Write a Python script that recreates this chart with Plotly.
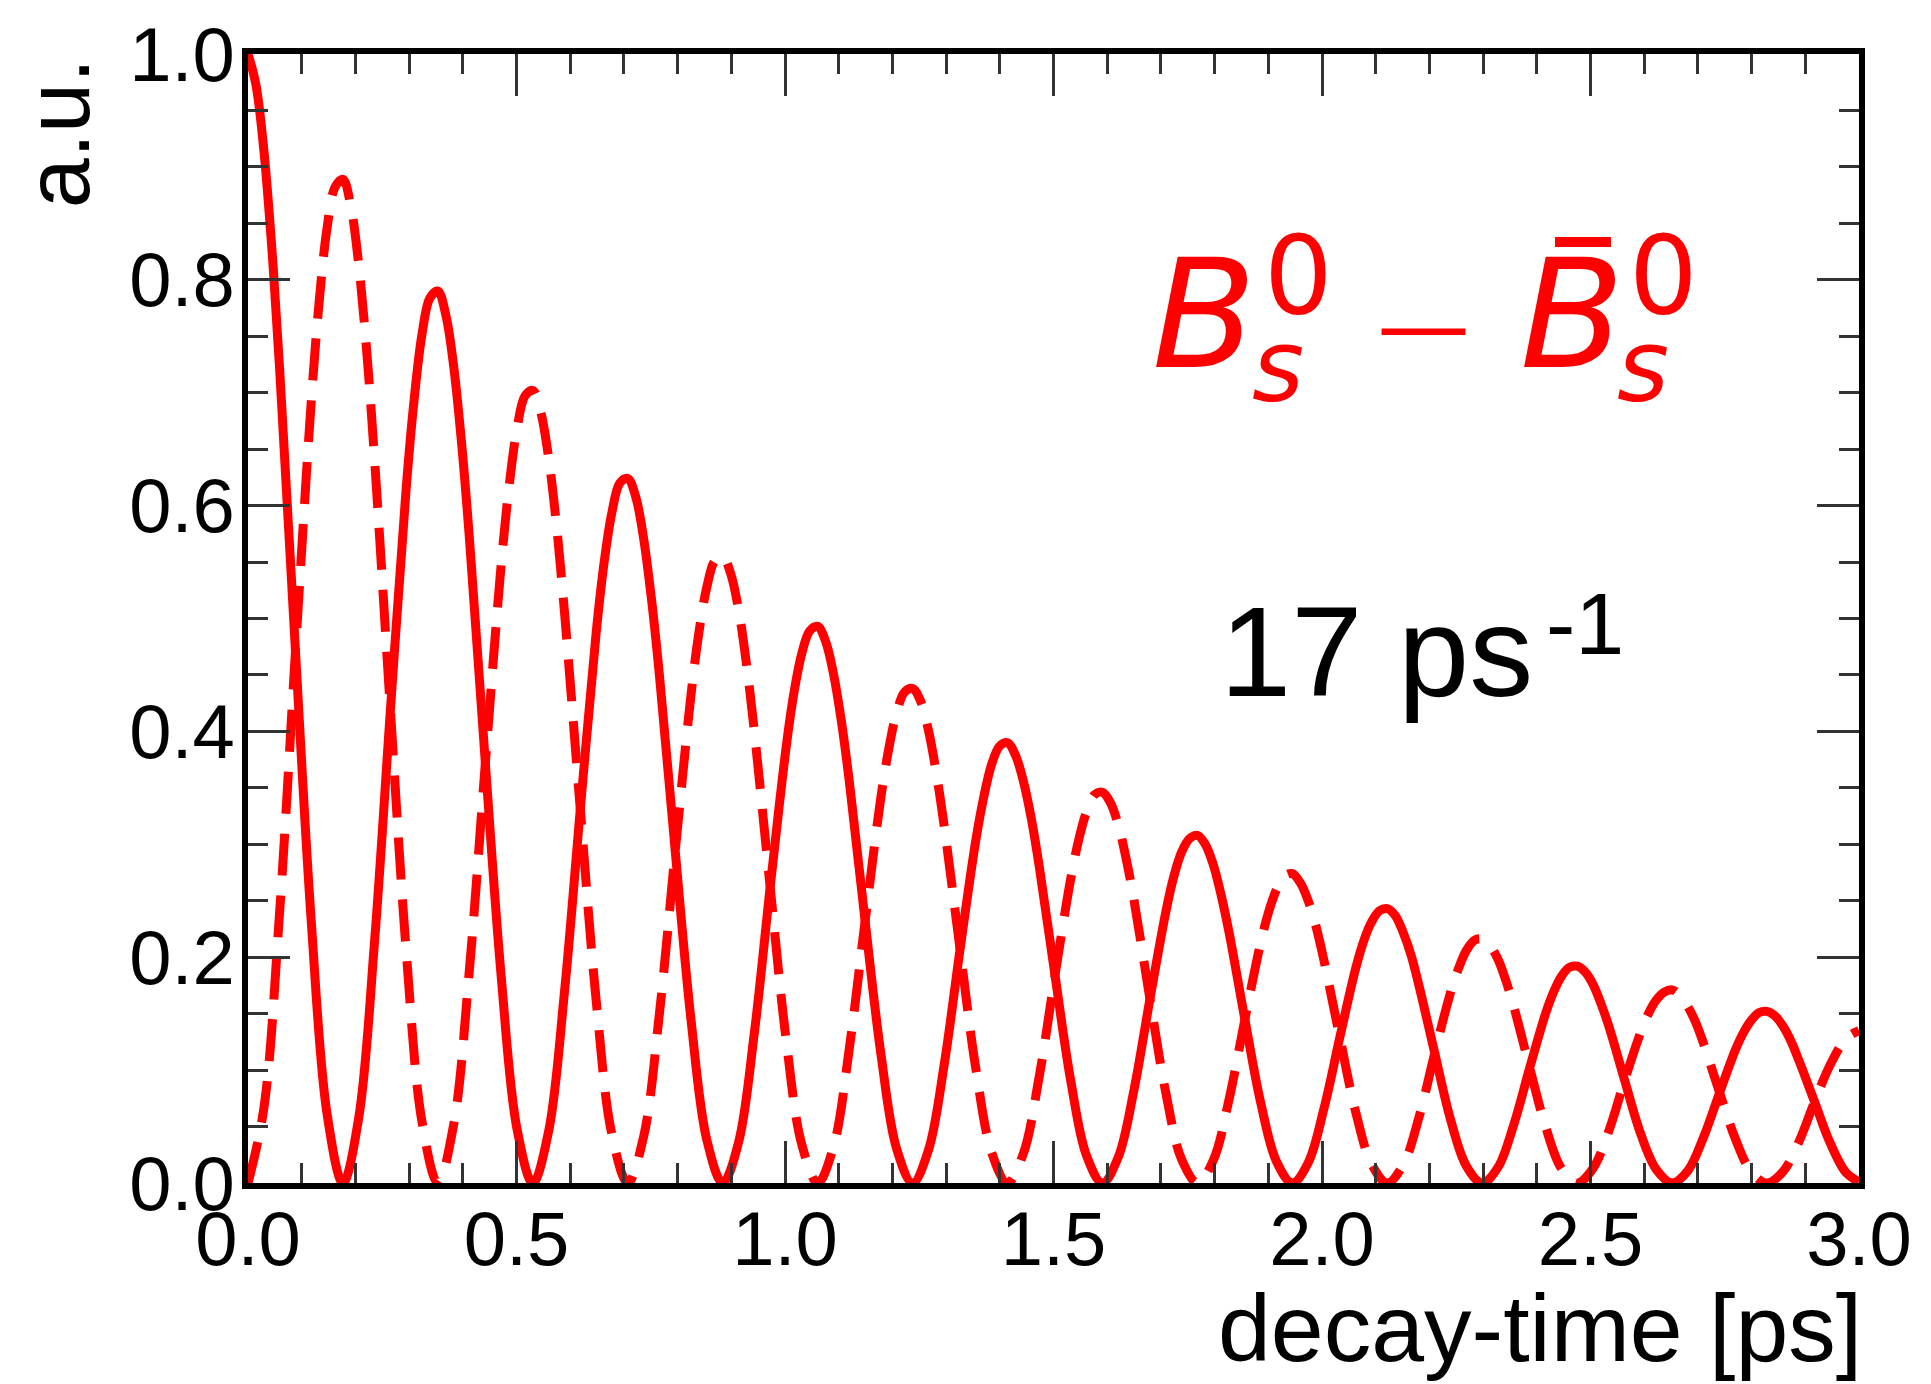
import plotly.graph_objects as go

# Values read from the picture. Sampled every 1/12 of an oscillation period,
# with extra readings around every maximum.
# unmixed (solid) curve: decay time [ps] and height [a.u.]
t_unmixed = [0.0000, 0.0147, 0.0295, 0.0442, 0.0589, 0.0884, 0.1179, 0.1473, 0.1768, 0.2063,
             0.2357, 0.2652, 0.2947, 0.3094, 0.3241, 0.3389, 0.3536, 0.3683, 0.3831, 0.3978,
             0.4125, 0.4420, 0.4715, 0.5009, 0.5304, 0.5599, 0.5893, 0.6188, 0.6483, 0.6630,
             0.6777, 0.6925, 0.7072, 0.7219, 0.7367, 0.7514, 0.7661, 0.7956, 0.8251, 0.8545,
             0.8840, 0.9135, 0.9429, 0.9724, 1.0019, 1.0166, 1.0313, 1.0461, 1.0608, 1.0755,
             1.0903, 1.1050, 1.1197, 1.1492, 1.1787, 1.2081, 1.2376, 1.2671, 1.2965, 1.3260,
             1.3555, 1.3702, 1.3849, 1.3997, 1.4144, 1.4291, 1.4439, 1.4586, 1.4733, 1.5028,
             1.5323, 1.5617, 1.5912, 1.6207, 1.6501, 1.6796, 1.7091, 1.7238, 1.7385, 1.7533,
             1.7680, 1.7827, 1.7975, 1.8122, 1.8269, 1.8564, 1.8859, 1.9153, 1.9448, 1.9743,
             2.0037, 2.0332, 2.0627, 2.0774, 2.0921, 2.1069, 2.1216, 2.1363, 2.1511, 2.1658,
             2.1805, 2.2100, 2.2395, 2.2689, 2.2984, 2.3279, 2.3573, 2.3868, 2.4163, 2.4310,
             2.4457, 2.4605, 2.4752, 2.4899, 2.5047, 2.5194, 2.5341, 2.5636, 2.5931, 2.6225,
             2.6520, 2.6815, 2.7109, 2.7404, 2.7699, 2.7846, 2.7993, 2.8141, 2.8288, 2.8435,
             2.8583, 2.8730, 2.8877, 2.9172, 2.9467, 2.9761, 3.0000]
unmixed = [1.000, 0.973, 0.915, 0.829, 0.721, 0.471, 0.231, 0.061, 0.000, 0.058,
           0.214, 0.419, 0.616, 0.694, 0.752, 0.784, 0.790, 0.769, 0.723, 0.655,
           0.570, 0.372, 0.183, 0.048, 0.000, 0.046, 0.169, 0.331, 0.487, 0.549,
           0.594, 0.620, 0.624, 0.608, 0.571, 0.517, 0.450, 0.294, 0.144, 0.038,
           0.000, 0.036, 0.133, 0.262, 0.385, 0.434, 0.469, 0.489, 0.493, 0.480,
           0.451, 0.409, 0.356, 0.232, 0.114, 0.030, 0.000, 0.029, 0.105, 0.207,
           0.304, 0.342, 0.371, 0.387, 0.390, 0.379, 0.356, 0.323, 0.281, 0.184,
           0.090, 0.024, 0.000, 0.023, 0.083, 0.163, 0.240, 0.271, 0.293, 0.305,
           0.308, 0.300, 0.282, 0.255, 0.222, 0.145, 0.071, 0.019, 0.000, 0.018,
           0.066, 0.129, 0.190, 0.214, 0.231, 0.241, 0.243, 0.237, 0.222, 0.202,
           0.175, 0.115, 0.056, 0.015, 0.000, 0.014, 0.052, 0.102, 0.150, 0.169,
           0.183, 0.191, 0.192, 0.187, 0.176, 0.159, 0.139, 0.091, 0.044, 0.012,
           0.000, 0.011, 0.041, 0.080, 0.118, 0.133, 0.144, 0.151, 0.152, 0.148,
           0.139, 0.126, 0.109, 0.072, 0.035, 0.009, 0.001]

# mixed (dashed) curve: decay time [ps] and height [a.u.]
t_mixed = [0.0000, 0.0295, 0.0589, 0.0884, 0.1179, 0.1326, 0.1473, 0.1621, 0.1768, 0.1915,
           0.2063, 0.2210, 0.2357, 0.2652, 0.2947, 0.3241, 0.3536, 0.3831, 0.4125, 0.4420,
           0.4715, 0.4862, 0.5009, 0.5157, 0.5304, 0.5451, 0.5599, 0.5746, 0.5893, 0.6188,
           0.6483, 0.6777, 0.7072, 0.7367, 0.7661, 0.7956, 0.8251, 0.8398, 0.8545, 0.8693,
           0.8840, 0.8987, 0.9135, 0.9282, 0.9429, 0.9724, 1.0019, 1.0313, 1.0608, 1.0903,
           1.1197, 1.1492, 1.1787, 1.1934, 1.2081, 1.2229, 1.2376, 1.2523, 1.2671, 1.2818,
           1.2965, 1.3260, 1.3555, 1.3849, 1.4144, 1.4439, 1.4733, 1.5028, 1.5323, 1.5470,
           1.5617, 1.5765, 1.5912, 1.6059, 1.6207, 1.6354, 1.6501, 1.6796, 1.7091, 1.7385,
           1.7680, 1.7975, 1.8269, 1.8564, 1.8859, 1.9006, 1.9153, 1.9301, 1.9448, 1.9595,
           1.9743, 1.9890, 2.0037, 2.0332, 2.0627, 2.0921, 2.1216, 2.1511, 2.1805, 2.2100,
           2.2395, 2.2542, 2.2689, 2.2837, 2.2984, 2.3131, 2.3279, 2.3426, 2.3573, 2.3868,
           2.4163, 2.4457, 2.4752, 2.5047, 2.5341, 2.5636, 2.5931, 2.6078, 2.6225, 2.6373,
           2.6520, 2.6667, 2.6815, 2.6962, 2.7109, 2.7404, 2.7699, 2.7993, 2.8288, 2.8583,
           2.8877, 2.9172, 2.9467, 2.9761, 3.0000]
mixed = [0.000, 0.066, 0.240, 0.471, 0.693, 0.781, 0.846, 0.882, 0.889, 0.865,
         0.813, 0.737, 0.641, 0.419, 0.205, 0.054, 0.000, 0.052, 0.190, 0.372,
         0.548, 0.617, 0.668, 0.697, 0.702, 0.683, 0.642, 0.582, 0.506, 0.331,
         0.162, 0.043, 0.000, 0.041, 0.150, 0.294, 0.433, 0.488, 0.528, 0.551,
         0.555, 0.540, 0.508, 0.460, 0.400, 0.262, 0.128, 0.034, 0.000, 0.032,
         0.119, 0.232, 0.342, 0.385, 0.417, 0.435, 0.438, 0.427, 0.401, 0.363,
         0.316, 0.207, 0.101, 0.027, 0.000, 0.026, 0.094, 0.184, 0.270, 0.304,
         0.329, 0.344, 0.346, 0.337, 0.317, 0.287, 0.250, 0.163, 0.080, 0.021,
         0.000, 0.020, 0.074, 0.145, 0.213, 0.240, 0.260, 0.272, 0.274, 0.266,
         0.250, 0.227, 0.197, 0.129, 0.063, 0.017, 0.000, 0.016, 0.058, 0.115,
         0.169, 0.190, 0.206, 0.215, 0.216, 0.210, 0.198, 0.179, 0.156, 0.102,
         0.050, 0.013, 0.000, 0.013, 0.046, 0.091, 0.133, 0.150, 0.162, 0.169,
         0.171, 0.166, 0.156, 0.142, 0.123, 0.080, 0.039, 0.010, 0.000, 0.010,
         0.036, 0.072, 0.105, 0.128, 0.135]

x_tick_vals = [0.0, 0.5, 1.0, 1.5, 2.0, 2.5, 3.0]
x_tick_text = ["0.0", "0.5", "1.0", "1.5", "2.0", "2.5", "3.0"]
y_tick_vals = [0.0, 0.2, 0.4, 0.6, 0.8, 1.0]
y_tick_text = ["0.0", "0.2", "0.4", "0.6", "0.8", "1.0"]

W, H = 1931, 1384
L, R, T, B = 248, 1859, 42, 1183


def px(x):
    return (x - L) / (R - L)


def py(y):
    return (B - y) / (B - T)


RED = "#ff0000"
fig = go.Figure()
fig.add_trace(go.Scatter(x=t_unmixed, y=unmixed, mode="lines",
                         line=dict(color=RED, width=9, shape="spline", smoothing=1.0,
                                   simplify=False),
                         showlegend=False))
fig.add_trace(go.Scatter(x=t_mixed, y=mixed, mode="lines",
                         line=dict(color=RED, width=9, shape="spline", smoothing=1.0,
                                   simplify=False, dash="42px,20px"),
                         showlegend=False))

tickfont = dict(family="Liberation Sans, Arial, sans-serif", size=76, color="black")
common = dict(showline=True, linewidth=6, linecolor="black", mirror="ticks",
              ticks="inside", tickwidth=3, tickcolor="#333", ticklen=42,
              showgrid=False, zeroline=False, tickfont=tickfont,
              ticklabeloverflow="allow")

fig.update_xaxes(range=[0, 3], tickvals=x_tick_vals, ticktext=x_tick_text,
                 ticklabelstandoff=-15,
                 minor=dict(dtick=0.1, tick0=0, ticks="inside", ticklen=20,
                            tickwidth=3, tickcolor="#333"),
                 **common)
fig.update_yaxes(range=[0, 1], tickvals=y_tick_vals, ticktext=y_tick_text,
                 ticklabelstandoff=-8,
                 minor=dict(dtick=0.05, tick0=0, ticks="inside", ticklen=20,
                            tickwidth=3, tickcolor="#333"),
                 **common)

ann = []
ann.append(dict(text="a.u.", x=px(58), y=py(122), xref="paper", yref="paper",
                textangle=-90, showarrow=False, xanchor="center", yanchor="middle",
                font=dict(family="Liberation Sans, Arial", size=90, color="black")))
ann.append(dict(text="decay-time [ps]", x=px(1864), y=py(1330), xref="paper", yref="paper",
                showarrow=False, xanchor="right", yanchor="middle",
                font=dict(family="Liberation Sans, Arial", size=95, color="black")))
ann.append(dict(text="17 ps", x=px(1218), y=py(646), xref="paper", yref="paper",
                showarrow=False, xanchor="left", yanchor="middle",
                font=dict(family="Liberation Sans, Arial", size=128, color="black")))
ann.append(dict(text="-1", x=px(1544), y=py(618), xref="paper", yref="paper",
                showarrow=False, xanchor="left", yanchor="middle",
                font=dict(family="Liberation Sans, Arial", size=88, color="black")))

dj = "DejaVu Sans"
# B_s^0 - Bbar_s^0
ann.append(dict(text="<i>B</i>", x=px(1150), y=py(305), xref="paper", yref="paper",
                showarrow=False, xanchor="left", yanchor="middle",
                font=dict(family=dj, size=152, color=RED)))
ann.append(dict(text="0", x=px(1262), y=py(266), xref="paper", yref="paper",
                showarrow=False, xanchor="left", yanchor="middle",
                font=dict(family=dj, size=108, color=RED)))
ann.append(dict(text="<i>s</i>", x=px(1250), y=py(358), xref="paper", yref="paper",
                showarrow=False, xanchor="left", yanchor="middle",
                font=dict(family=dj, size=100, color=RED)))
ann.append(dict(text="\u2014", x=px(1375), y=py(316), xref="paper", yref="paper",
                showarrow=False, xanchor="left", yanchor="middle",
                font=dict(family=dj, size=93, color=RED)))
ann.append(dict(text="<i>B</i>", x=px(1518), y=py(305), xref="paper", yref="paper",
                showarrow=False, xanchor="left", yanchor="middle",
                font=dict(family=dj, size=152, color=RED)))
ann.append(dict(text="0", x=px(1627), y=py(266), xref="paper", yref="paper",
                showarrow=False, xanchor="left", yanchor="middle",
                font=dict(family=dj, size=108, color=RED)))
ann.append(dict(text="<i>s</i>", x=px(1615), y=py(358), xref="paper", yref="paper",
                showarrow=False, xanchor="left", yanchor="middle",
                font=dict(family=dj, size=100, color=RED)))

# bar over the second B (anti-particle)
shapes = [dict(type="rect", xref="paper", yref="paper",
               x0=px(1555), x1=px(1611), y0=py(237), y1=py(227),
               fillcolor=RED, line=dict(width=0))]

fig.update_layout(width=W, height=H, margin=dict(l=L, r=W - R, t=T, b=H - B, pad=0),
                  plot_bgcolor="white", paper_bgcolor="white", annotations=ann,
                  shapes=shapes)

fig.write_html("out.html")
